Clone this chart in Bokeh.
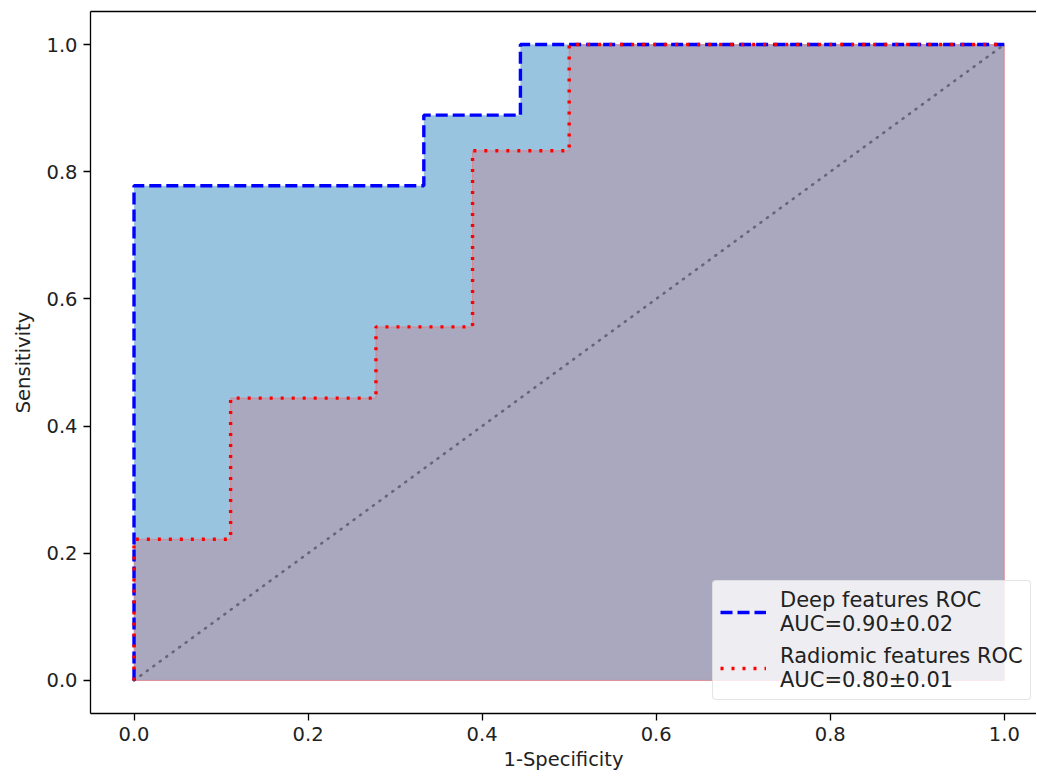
from bokeh.plotting import figure
from bokeh.models import Range1d, Legend, LegendItem, FixedTicker, LinearAxis, NumeralTickFormatter
from bokeh.embed import file_html
from bokeh.resources import INLINE

# Data
deep_fpr = [0.0, 0.0, 0.0, 0.333, 0.333, 0.444, 0.444, 1.0]
deep_tpr = [0.0, 0.222, 0.778, 0.778, 0.889, 0.889, 1.0, 1.0]
rad_fpr = [0.0, 0.0, 0.111, 0.111, 0.278, 0.278, 0.389, 0.389, 0.5, 0.5, 1.0]
rad_tpr = [0.0, 0.222, 0.222, 0.444, 0.444, 0.556, 0.556, 0.833, 0.833, 1.0, 1.0]
diag = [0.0, 1.0]
ticks = [0.0, 0.2, 0.4, 0.6, 0.8, 1.0]
deep_label = "Deep features ROC\nAUC=0.90±0.02"
rad_label = "Radiomic features ROC\nAUC=0.80±0.01"

FONT = "DejaVu Sans"
FS = "19.5px"

p = figure(width=1036, height=776, output_backend="svg", toolbar_location=None,
           x_range=Range1d(-0.05, 1.037), y_range=Range1d(-0.052, 1.052),
           min_border_left=90, min_border_right=0, min_border_top=11, min_border_bottom=63)
p.outline_line_color = None
p.grid.visible = False
p.background_fill_color = "white"

# fills
p.patch(deep_fpr + [1.0, 0.0], deep_tpr + [0.0, 0.0], fill_color="#98C4E0", line_color=None)
p.patch(rad_fpr + [1.0, 0.0], rad_tpr + [0.0, 0.0], fill_color="#A9A8BF",
        line_color="#FF6060", line_alpha=0.5, line_width=1)

# diagonal
p.line(diag, diag, line_color="#666677", line_width=2.6, line_dash="1 7", line_cap="round")

deep_r = p.line(deep_fpr, deep_tpr, line_color="#0000FF", line_width=3.4, line_dash="12 5")
rad_r = p.line(rad_fpr, rad_tpr, line_color="#FF0000", line_width=3.4, line_dash="3 8")

for ax in (p.xaxis[0], p.yaxis[0]):
    ax.ticker = FixedTicker(ticks=ticks)
    ax.formatter = NumeralTickFormatter(format="0.0")
    ax.minor_tick_line_color = None
    ax.major_tick_out = 7
    ax.major_tick_in = 0
    ax.major_tick_line_width = 1.3
    ax.axis_line_width = 1.3
    ax.major_label_text_font = FONT
    ax.major_label_text_font_size = FS
    ax.major_label_text_color = "#222222"
    ax.axis_label_text_font = FONT
    ax.axis_label_text_font_size = FS
    ax.axis_label_text_font_style = "normal"
    ax.axis_label_text_color = "#222222"
    ax.major_label_standoff = 6

p.xaxis.axis_label = "1-Specificity"
p.yaxis.axis_label = "Sensitivity"
p.xaxis.axis_label_standoff = 4
p.yaxis.axis_label_standoff = 8

top = LinearAxis(ticker=FixedTicker(ticks=[]), major_label_text_font_size="0px",
                 axis_line_width=1.3, minor_tick_line_color=None, major_tick_line_color=None)
p.add_layout(top, "above")

legend = Legend(items=[LegendItem(label=deep_label, renderers=[deep_r]),
                       LegendItem(label=rad_label, renderers=[rad_r])],
                location=(622, 13))
legend.label_text_font = FONT
legend.label_text_font_size = "21px"
legend.label_text_line_height = 0.92
legend.label_text_color = "#222222"
legend.glyph_width = 46
legend.glyph_height = 46
legend.label_height = 46
legend.label_standoff = 14
legend.spacing = 8
legend.padding = 7
legend.margin = 0
legend.border_line_color = "#CCCCCC"
legend.border_radius = 4
legend.background_fill_color = "white"
legend.background_fill_alpha = 0.8
p.add_layout(legend)

open("out.html", "w").write(file_html(p, INLINE))
